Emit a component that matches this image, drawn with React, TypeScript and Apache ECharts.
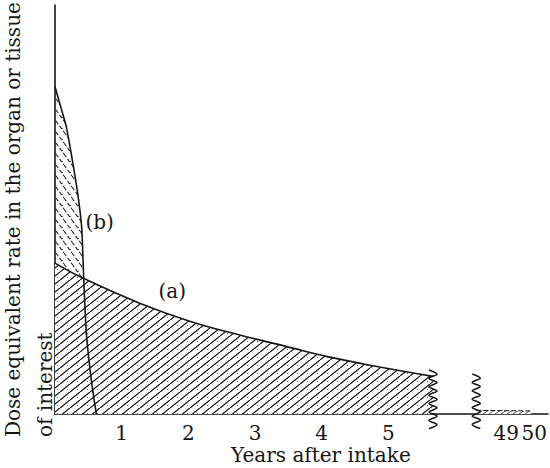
import React, { useEffect, useRef } from "react";
import * as echarts from "echarts";

// ---- data ----
const yearsA = [0, 0.41, 1.27, 2.02, 2.77, 3.45, 4.12, 4.87, 5.67];
const doseA = [36.9, 33.3, 27.1, 22.7, 19.3, 16.6, 13.9, 11.5, 9.2];
const yearsB = [0, 0.1, 0.17, 0.26, 0.34, 0.4, 0.42, 0.43, 0.47, 0.55, 0.62];
const doseB = [80.0, 74.3, 70.2, 62.1, 54.0, 45.7, 37.7, 33.5, 19.8, 7.6, 0];
const yearsTail = [47.93, 48.5, 49.2, 49.88];
const doseTail = [0.9, 0.85, 0.8, 0.75];
const leftTicks = [1, 2, 3, 4, 5];
const rightTicks = [49, 50];
const breakLeft = 5.67;
const breakRight = 47.93;
const labelA = { year: 1.76, dose: 30.1, text: "(a)" };
const labelB = { year: 0.67, dose: 46.9, text: "(b)" };
const xTitle = "Years after intake";
const yTitle1 = "Dose equivalent rate in the organ or tissue";
const yTitle2 = "of interest";

const FONT = "DejaVu Serif";
const INK = "#151515";

function hatch(w: number, h: number, dir: string, color: string, bg: string | null, lw: number, dash: number[] | null, dot: boolean) {
  const c = document.createElement("canvas");
  c.width = w;
  c.height = h;
  const ctx = c.getContext("2d")!;
  if (bg) {
    ctx.fillStyle = bg;
    ctx.fillRect(0, 0, w, h);
  }
  ctx.strokeStyle = color;
  ctx.lineWidth = lw;
  if (dash) ctx.setLineDash(dash);
  for (const k of [-1, 0, 1]) {
    ctx.beginPath();
    if (dir === "/") {
      ctx.moveTo(k * w, h);
      ctx.lineTo(k * w + w, 0);
    } else {
      ctx.moveTo(k * w, 0);
      ctx.lineTo(k * w + w, h);
    }
    ctx.stroke();
  }
  if (dot) {
    ctx.fillStyle = "rgba(40,40,40,0.7)";
    ctx.fillRect(Math.round(w * 0.7), Math.round(h * 0.6), 1, 1);
  }
  return c;
}

function zig(topOff: number, botOff: number) {
  return (params: any, api: any) => {
    const x = api.value(0);
    const p = api.coord([x, 0]);
    const pts: number[][] = [];
    const step = 4.2;
    const amp = 4;
    const top = p[1] - topOff;
    const bot = p[1] + botOff;
    let i = 0;
    for (let y = top; y <= bot + 0.01; y += step, i++) {
      pts.push([p[0] + (i % 2 ? amp : -amp), y]);
    }
    return {
      type: "polyline",
      shape: { points: pts, smooth: 0.35 },
      style: { stroke: INK, lineWidth: 1.6, fill: null },
    };
  };
}

export default function App() {
  const ref = useRef<HTMLDivElement>(null);
  useEffect(() => {
    document.body.style.margin = "0";
    const chart = echarts.init(ref.current!, null, { renderer: "svg" });
    const patA = hatch(10, 8, "/", "#1a1a1a", "#ffffff", 1.3, null, true);
    const patB = hatch(8, 11, "\\", "#2a2a2a", null, 1.1, [4, 2], true);
    const patTail = hatch(6, 4, "/", "#333", "#ffffff", 0.9, null, false);

    const labelStyle = { fontFamily: FONT, fontSize: 20, color: INK };

    chart.setOption({
      animation: false,
      backgroundColor: "#ffffff",
      grid: [
        { left: 55, top: 5, width: 378, height: 409 },
        { left: 433, top: 5, width: 117, height: 409 },
      ],
      xAxis: [
        {
          type: "value",
          gridIndex: 0,
          min: 0,
          max: breakLeft,
          interval: 1,
          axisLine: { show: true, onZero: false, lineStyle: { color: INK, width: 1.6 } },
          axisTick: { show: true, inside: true, length: 7, customValues: leftTicks, lineStyle: { color: INK, width: 1.2 } },
          axisLabel: { show: true, customValues: leftTicks, margin: 9, fontFamily: FONT, fontSize: 20, color: INK },
          splitLine: { show: false },
        },
        {
          type: "value",
          gridIndex: 1,
          min: 46.386,
          max: 50.491,
          axisLine: { show: true, onZero: false, lineStyle: { color: INK, width: 1.6 } },
          axisTick: { show: false },
          axisLabel: { show: true, customValues: rightTicks, margin: 9, fontFamily: FONT, fontSize: 20, color: INK },
          splitLine: { show: false },
        },
      ],
      yAxis: [
        {
          type: "value",
          gridIndex: 0,
          min: 0,
          max: 100,
          axisLine: { show: true, lineStyle: { color: INK, width: 1.6 } },
          axisTick: { show: false },
          axisLabel: { show: false },
          splitLine: { show: false },
        },
        {
          type: "value",
          gridIndex: 1,
          min: 0,
          max: 100,
          show: false,
        },
      ],
      series: [
        {
          name: "b-area",
          type: "line",
          xAxisIndex: 0,
          yAxisIndex: 0,
          data: yearsB.map((t, i) => [t, doseB[i]]),
          smooth: 0.2,
          showSymbol: false,
          symbol: "none",
          lineStyle: { width: 0, opacity: 0 },
          areaStyle: { color: { image: patB, repeat: "repeat" }, opacity: 1 },
          z: 1,
          markPoint: {
            symbol: "circle",
            symbolSize: 0,
            data: [{ coord: [labelB.year, labelB.dose], label: { show: true, formatter: labelB.text, ...labelStyle } }],
          },
        },
        {
          name: "a",
          type: "line",
          xAxisIndex: 0,
          yAxisIndex: 0,
          data: yearsA.map((t, i) => [t, doseA[i]]),
          smooth: 0.4,
          showSymbol: false,
          symbol: "none",
          lineStyle: { color: INK, width: 1.6 },
          areaStyle: { color: { image: patA, repeat: "repeat" }, opacity: 1 },
          z: 2,
          markPoint: {
            symbol: "circle",
            symbolSize: 0,
            data: [{ coord: [labelA.year, labelA.dose], label: { show: true, formatter: labelA.text, ...labelStyle } }],
          },
        },
        {
          name: "b",
          type: "line",
          xAxisIndex: 0,
          yAxisIndex: 0,
          data: yearsB.map((t, i) => [t, doseB[i]]),
          smooth: 0.2,
          showSymbol: false,
          symbol: "none",
          lineStyle: { color: INK, width: 1.6 },
          z: 3,
        },
        {
          name: "tail",
          type: "line",
          xAxisIndex: 1,
          yAxisIndex: 1,
          data: yearsTail.map((t, i) => [t, doseTail[i]]),
          showSymbol: false,
          symbol: "none",
          lineStyle: { color: INK, width: 1, type: [5, 2] },
          areaStyle: { color: { image: patTail, repeat: "repeat" }, opacity: 1 },
          z: 2,
        },
        {
          name: "break-left",
          type: "custom",
          xAxisIndex: 0,
          yAxisIndex: 0,
          data: [[breakLeft, 0]],
          renderItem: zig(44, 18),
          clip: false,
          z: 4,
        },
        {
          name: "break-right",
          type: "custom",
          xAxisIndex: 1,
          yAxisIndex: 1,
          data: [[breakRight, 0]],
          renderItem: zig(40, 18),
          clip: false,
          z: 4,
        },
      ],
      graphic: [
        {
          type: "text",
          x: 13,
          y: 437,
          rotation: Math.PI / 2,
          style: { text: yTitle1, font: `20px '${FONT}'`, fill: INK, textAlign: "left", textVerticalAlign: "middle" },
        },
        {
          type: "text",
          x: 45,
          y: 437,
          rotation: Math.PI / 2,
          style: { text: yTitle2, font: `20px '${FONT}'`, fill: INK, textAlign: "left", textVerticalAlign: "middle" },
        },
        {
          type: "text",
          x: 231,
          y: 455,
          style: { text: xTitle, font: `20px '${FONT}'`, fill: INK, textAlign: "left", textVerticalAlign: "middle" },
        },
      ],
    });
    return () => chart.dispose();
  }, []);
  return <div ref={ref} style={{ width: 550, height: 468 }} />;
}
